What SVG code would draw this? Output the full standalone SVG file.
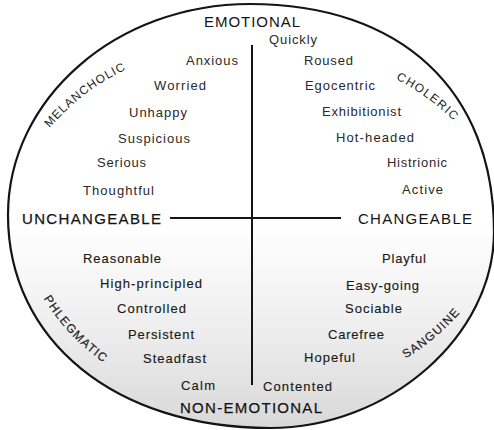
<svg xmlns="http://www.w3.org/2000/svg" width="494" height="430" viewBox="0 0 494 430">
  <defs>
    <linearGradient id="shade" gradientUnits="userSpaceOnUse" x1="0" y1="225" x2="0" y2="430">
      <stop offset="0" stop-color="#ffffff"/>
      <stop offset="0.5" stop-color="#eeeeee"/>
      <stop offset="1" stop-color="#d8d8d8"/>
    </linearGradient>
    <path id="arcMel" d="M33,150 A230,230 0 0 1 152,59"/>
    <path id="arcCho" d="M373,69 A230,230 0 0 1 471,140"/>
    <path id="arcPhl" d="M31,275 A220,220 0 0 0 127,377"/>
    <path id="arcSan" d="M381,371 A220,220 0 0 0 477,290"/>
    <style>
      .w { font-family: "Liberation Sans", Arial, sans-serif; font-size: 13px; fill: #2a2a2a; }
      .wl { font-family: "Liberation Sans", Arial, sans-serif; font-size: 13px; fill: #1a1a1a; stroke: #1a1a1a; stroke-width: 0.15; }
      .cap { font-family: "Liberation Sans", Arial, sans-serif; font-size: 15px; fill: #141414; }
      .type { font-family: "Liberation Sans", Arial, sans-serif; font-size: 12px; fill: #1e1e1e; }
      .axis { stroke: #141414; stroke-width: 2; fill: none; }
    </style>
  </defs>

  <rect width="494" height="430" fill="#ffffff"/>

  <g id="circle">
    <path d="M250,4 C401.3,4 494,90.6 494,232 C494,335.9 388.7,428 270,428 C115.4,428 8,340.7 8,215 C8,98.5 116.4,4 250,4 Z" fill="url(#shade)" stroke="#141414" stroke-width="2.2"/>
  </g>

  <g id="connectors">
    <line class="axis" x1="252" y1="45" x2="252" y2="385"/>
    <line class="axis" x1="170" y1="218" x2="341" y2="218"/>
  </g>

  <g id="axis-labels">
    <text class="cap" x="204" y="27" font-size="14.5" textLength="96" lengthAdjust="spacing">EMOTIONAL</text>
    <text class="cap" x="180" y="413" textLength="142" lengthAdjust="spacing" stroke="#141414" stroke-width="0.25">NON-EMOTIONAL</text>
    <text class="cap" x="22" y="224" textLength="139" lengthAdjust="spacing" stroke="#141414" stroke-width="0.25">UNCHANGEABLE</text>
    <text class="cap" x="358" y="224" textLength="114" lengthAdjust="spacing">CHANGEABLE</text>
  </g>

  <g id="melancholic">
    <text class="type" letter-spacing="1"><textPath href="#arcMel" startOffset="50%" text-anchor="middle">MELANCHOLIC</textPath></text>
    <text class="w" x="186" y="65" textLength="52" lengthAdjust="spacing">Anxious</text>
    <text class="w" x="154" y="90" textLength="52" lengthAdjust="spacing">Worried</text>
    <text class="w" x="129" y="117" textLength="58" lengthAdjust="spacing">Unhappy</text>
    <text class="w" x="118" y="143" textLength="72" lengthAdjust="spacing">Suspicious</text>
    <text class="w" x="97" y="167" textLength="49" lengthAdjust="spacing">Serious</text>
    <text class="w" x="83" y="195" textLength="71" lengthAdjust="spacing">Thoughtful</text>
  </g>

  <g id="choleric">
    <text class="type" letter-spacing="1.3"><textPath href="#arcCho" startOffset="50%" text-anchor="middle">CHOLERIC</textPath></text>
    <text class="w" x="269" y="44" font-size="12" textLength="48" lengthAdjust="spacing">Quickly</text>
    <text class="w" x="304" y="65" textLength="49" lengthAdjust="spacing">Roused</text>
    <text class="w" x="305" y="90" textLength="70" lengthAdjust="spacing">Egocentric</text>
    <text class="w" x="322" y="116" textLength="79" lengthAdjust="spacing">Exhibitionist</text>
    <text class="w" x="336" y="142" textLength="78" lengthAdjust="spacing">Hot-headed</text>
    <text class="w" x="387" y="167" textLength="60" lengthAdjust="spacing">Histrionic</text>
    <text class="w" x="402" y="194" textLength="41" lengthAdjust="spacing">Active</text>
  </g>

  <g id="phlegmatic">
    <text class="type" letter-spacing="1.2" stroke="#1e1e1e" stroke-width="0.2"><textPath href="#arcPhl" startOffset="50%" text-anchor="middle">PHLEGMATIC</textPath></text>
    <text class="wl" x="83" y="263" textLength="78" lengthAdjust="spacing">Reasonable</text>
    <text class="wl" x="100" y="288" textLength="102" lengthAdjust="spacing">High-principled</text>
    <text class="wl" x="117" y="313" textLength="69" lengthAdjust="spacing">Controlled</text>
    <text class="wl" x="128" y="339" textLength="66" lengthAdjust="spacing">Persistent</text>
    <text class="wl" x="143" y="363" textLength="63" lengthAdjust="spacing">Steadfast</text>
    <text class="wl" x="181" y="390" textLength="34" lengthAdjust="spacing">Calm</text>
  </g>

  <g id="sanguine">
    <text class="type" font-size="12.5" letter-spacing="1.2" stroke="#1e1e1e" stroke-width="0.2"><textPath href="#arcSan" startOffset="50%" text-anchor="middle">SANGUINE</textPath></text>
    <text class="wl" x="382" y="263" textLength="44" lengthAdjust="spacing">Playful</text>
    <text class="wl" x="346" y="290" textLength="73" lengthAdjust="spacing">Easy-going</text>
    <text class="wl" x="345" y="313" textLength="57" lengthAdjust="spacing">Sociable</text>
    <text class="wl" x="328" y="339" textLength="56" lengthAdjust="spacing">Carefree</text>
    <text class="wl" x="304" y="362" textLength="51" lengthAdjust="spacing">Hopeful</text>
    <text class="wl" x="263" y="391" textLength="69" lengthAdjust="spacing">Contented</text>
  </g>
</svg>
